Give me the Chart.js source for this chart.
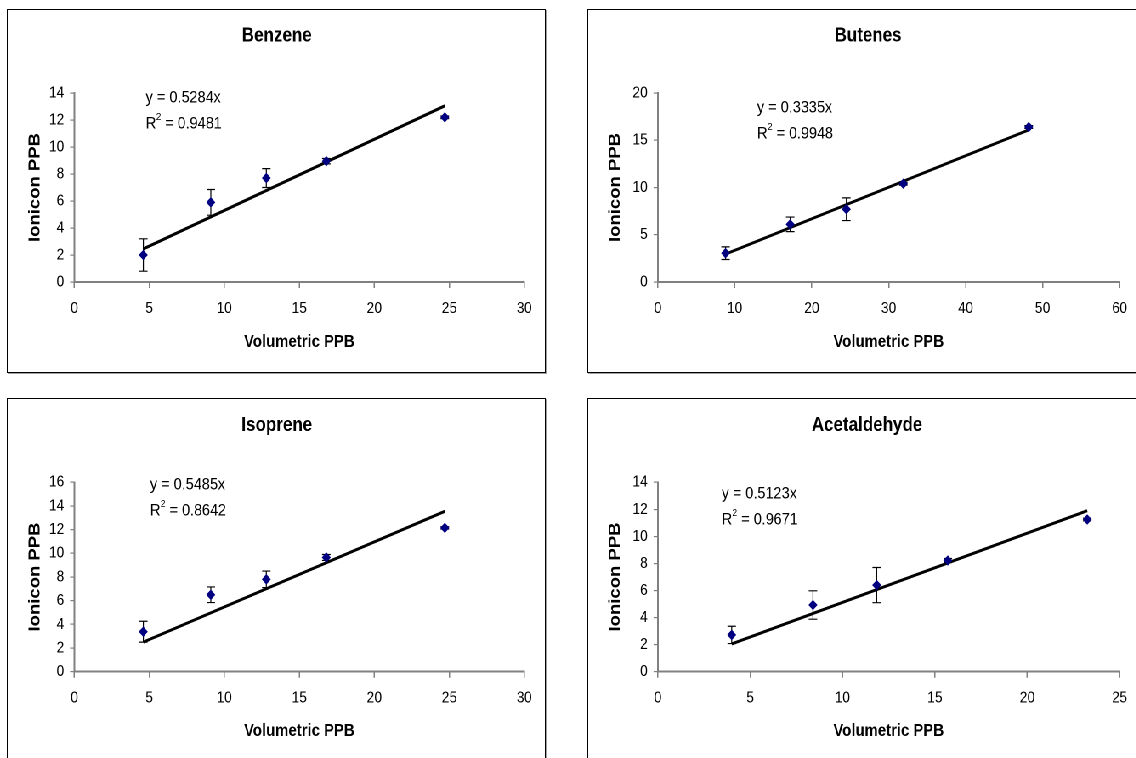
<!DOCTYPE html>
<html>
<head>
<meta charset="utf-8">
<title>Ionicon vs Volumetric PPB</title>
<script src="https://cdn.jsdelivr.net/npm/chart.js@4.4.1/dist/chart.umd.min.js"></script>
<style>
  html, body { margin: 0; padding: 0; background: #fff; }
  body { width: 1136px; height: 758px; overflow: hidden; position: relative; }
  .box { position: absolute; border: 1px solid #000; box-shadow: 1px 1px 0 #a0a0a0; box-sizing: border-box; }
  /* the original picture is squeezed horizontally, so draw wide and squeeze */
  #stage { position: absolute; left: 0; top: 0; width: 1337px; height: 758px; transform: scaleX(0.85); transform-origin: 0 0; }
  #stage canvas { position: absolute; }
</style>
</head>
<body>
<div class="box" style="left:7px;top:9px;width:539px;height:364px"></div>
<div class="box" style="left:587px;top:9px;width:600px;height:364px"></div>
<div class="box" style="left:7px;top:398px;width:539px;height:420px"></div>
<div class="box" style="left:587px;top:398px;width:600px;height:420px"></div>

<div id="stage">
  <canvas id="c1" width="690" height="385" style="left:0;top:0"></canvas>
  <canvas id="c2" width="647" height="385" style="left:690px;top:0"></canvas>
  <canvas id="c3" width="690" height="373" style="left:0;top:385px"></canvas>
  <canvas id="c4" width="647" height="373" style="left:690px;top:385px"></canvas>
</div>

<script>
// data
const benzeneX = [4.6, 9.1, 12.8, 16.8, 24.7]
const benzeneY = [2.0, 5.9, 7.7, 8.95, 12.2]
const benzeneErr = [1.2, 0.95, 0.7, 0.2, 0.1]
const benzeneTrendX = [4.6, 24.7]
const benzeneTrendY = [2.45, 13.05]

const butenesX = [8.8, 17.2, 24.5, 31.9, 48.2]
const butenesY = [3.05, 6.1, 7.7, 10.4, 16.4]
const butenesErr = [0.67, 0.77, 1.2, 0.15, 0.15]
const butenesTrendX = [8.8, 48.2]
const butenesTrendY = [2.95, 16.1]

const isopreneX = [4.6, 9.1, 12.8, 16.8, 24.7]
const isopreneY = [3.38, 6.5, 7.8, 9.65, 12.15]
const isopreneErr = [0.88, 0.66, 0.7, 0.25, 0.1]
const isopreneTrendX = [4.6, 24.7]
const isopreneTrendY = [2.5, 13.55]

const acetaldehydeX = [4.0, 8.4, 11.85, 15.7, 23.25]
const acetaldehydeY = [2.72, 4.93, 6.4, 8.22, 11.25]
const acetaldehydeErr = [0.64, 1.05, 1.3, 0.15, 0.1]
const acetaldehydeTrendX = [4.0, 23.25]
const acetaldehydeTrendY = [2.05, 11.9]

const titles = ['Benzene', 'Butenes', 'Isoprene', 'Acetaldehyde']
const equations = ['y = 0.5284x', 'y = 0.3335x', 'y = 0.5485x', 'y = 0.5123x']
const rSquared = ['0.9481', '0.9948', '0.8642', '0.9671']
const xAxisMax = [30, 60, 30, 25]
const xAxisStep = [5, 10, 5, 5]
const yAxisMax = [14, 20, 16, 14]
const yAxisStep = [2, 5, 2, 2]

const xTitle = 'Volumetric PPB'
const yTitle = 'Ionicon PPB'

const FONT = '"Liberation Sans", Arial, Helvetica, sans-serif'

// 标题、坐标轴标题和趋势线公式
const panelText = {
  id: 'panelText',
  afterDraw(chart, args, o) {
    const { ctx, chartArea: a } = chart
    ctx.save()
    ctx.fillStyle = '#000'
    ctx.textBaseline = 'middle'
    ctx.textAlign = 'center'
    ctx.font = `bold 20px ${FONT}`
    ctx.fillText(o.title, o.titleX, o.titleY)

    ctx.font = `bold 17.5px ${FONT}`
    ctx.fillText(xTitle, (a.left + a.right) / 2, a.bottom + o.xTitleGap)

    ctx.save()
    ctx.translate(a.left - o.yTitleGap, (a.top + a.bottom) / 2)
    ctx.rotate(-Math.PI / 2)
    ctx.font = `bold 18.5px ${FONT}`
    ctx.fillText(yTitle, 0, 0)
    ctx.restore()

    ctx.textAlign = 'left'
    ctx.font = `17px ${FONT}`
    ctx.fillText(o.eq, o.eqX, o.eqY)
    const y2 = o.eqY + 26
    let x = o.eqX
    ctx.fillText('R', x, y2)
    x += ctx.measureText('R').width
    ctx.font = `10.5px ${FONT}`
    ctx.fillText('2', x, y2 - 7)
    x += ctx.measureText('2').width
    ctx.font = `17px ${FONT}`
    ctx.fillText(' = ' + o.r2, x, y2)
    ctx.restore()
  }
}

// 误差棒
const errorBars = {
  id: 'errorBars',
  beforeDatasetsDraw(chart, args, o) {
    const { ctx, scales } = chart
    ctx.save()
    ctx.strokeStyle = '#000'
    ctx.lineWidth = 1.2
    o.x.forEach((xv, i) => {
      const px = scales.x.getPixelForValue(xv)
      const top = scales.y.getPixelForValue(o.y[i] + o.err[i])
      const bot = scales.y.getPixelForValue(o.y[i] - o.err[i])
      ctx.beginPath()
      ctx.moveTo(px, top)
      ctx.lineTo(px, bot)
      ctx.moveTo(px - 5, top)
      ctx.lineTo(px + 5, top)
      ctx.moveTo(px - 5, bot)
      ctx.lineTo(px + 5, bot)
      ctx.stroke()
    })
    ctx.restore()
  }
}

const panels = [
  { id: 'c1', x: benzeneX, y: benzeneY, err: benzeneErr, tx: benzeneTrendX, ty: benzeneTrendY,
    pad: { left: 27.4, top: 93, right: 73.2, bottom: 53 },
    titleX: 325.6, titleY: 36, eqX: 171.4, eqY: 98, yTitleGap: 46, xTitleGap: 60 },
  { id: 'c2', x: butenesX, y: butenesY, err: butenesErr, tx: butenesTrendX, ty: butenesTrendY,
    pad: { left: 23.9, top: 93, right: 12.3, bottom: 53 },
    titleX: 331.2, titleY: 36, eqX: 200.6, eqY: 108, yTitleGap: 50, xTitleGap: 60 },
  { id: 'c3', x: isopreneX, y: isopreneY, err: isopreneErr, tx: isopreneTrendX, ty: isopreneTrendY,
    pad: { left: 27.4, top: 97.3, right: 73.2, bottom: 36.3 },
    titleX: 325.6, titleY: 40.7, eqX: 176.5, eqY: 100, yTitleGap: 46, xTitleGap: 59.5 },
  { id: 'c4', x: acetaldehydeX, y: acetaldehydeY, err: acetaldehydeErr, tx: acetaldehydeTrendX, ty: acetaldehydeTrendY,
    pad: { left: 23.9, top: 97.3, right: 15.2, bottom: 36.3 },
    titleX: 330, titleY: 40.7, eqX: 159.1, eqY: 109, yTitleGap: 50, xTitleGap: 59.5 },
]

const axisColor = '#808080'

panels.forEach((p, i) => {
  const ctx = document.getElementById(p.id).getContext('2d')
  new Chart(ctx, {
    type: 'scatter',
    data: {
      datasets: [
        {
          label: titles[i],
          data: p.x.map((v, k) => ({ x: v, y: p.y[k] })),
          pointStyle: 'rectRot',
          pointRadius: 4.6,
          backgroundColor: '#000080',
          borderColor: '#000080',
          borderWidth: 1,
        },
        {
          type: 'line',
          label: 'trend',
          data: p.tx.map((v, k) => ({ x: v, y: p.ty[k] })),
          borderColor: '#000',
          borderWidth: 3,
          pointRadius: 0,
          fill: false,
        },
      ],
    },
    options: {
      responsive: false,
      animation: false,
      devicePixelRatio: 2,
      layout: { padding: p.pad },
      plugins: {
        legend: { display: false },
        tooltip: { enabled: false },
        panelText: {
          title: titles[i], eq: equations[i], r2: rSquared[i],
          titleX: p.titleX, titleY: p.titleY, eqX: p.eqX, eqY: p.eqY,
          yTitleGap: p.yTitleGap, xTitleGap: p.xTitleGap,
        },
        errorBars: { x: p.x, y: p.y, err: p.err },
      },
      scales: {
        x: {
          type: 'linear',
          min: 0,
          max: xAxisMax[i],
          ticks: { stepSize: xAxisStep[i], color: '#000', padding: 11, font: { size: 16, family: FONT } },
          grid: { drawOnChartArea: false, drawTicks: true, tickLength: 6, color: axisColor, lineWidth: 1.5 },
          border: { color: axisColor, width: 2 },
          afterFit(s) { s.height = 50 },
        },
        y: {
          type: 'linear',
          min: 0,
          max: yAxisMax[i],
          ticks: { stepSize: yAxisStep[i], color: '#000', padding: 7, font: { size: 16, family: FONT } },
          grid: { drawOnChartArea: false, drawTicks: true, tickLength: 5, color: axisColor, lineWidth: 1.2 },
          border: { color: axisColor, width: 2 },
          afterFit(s) { s.width = 60 },
        },
      },
    },
    plugins: [panelText, errorBars],
  })
})
</script>
</body>
</html>
